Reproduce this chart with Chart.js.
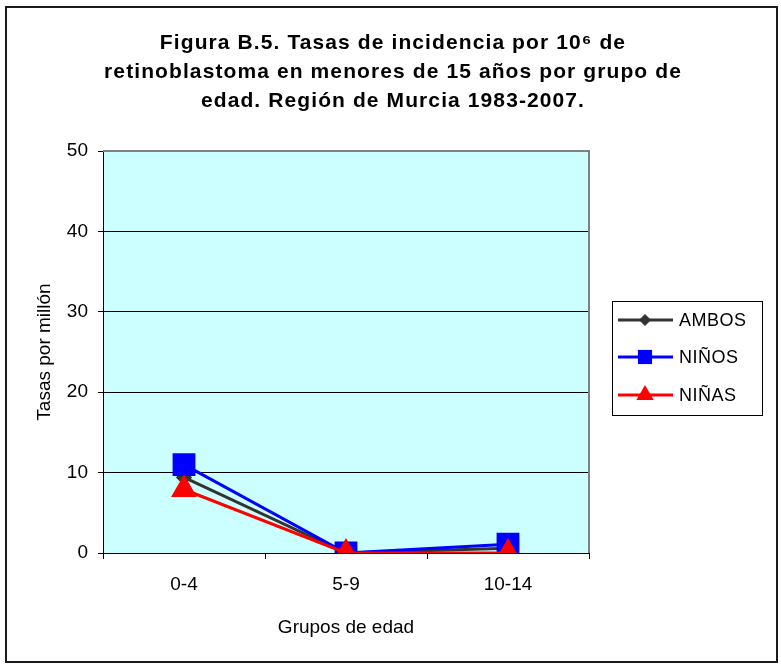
<!DOCTYPE html>
<html>
<head>
<meta charset="utf-8">
<script src="https://cdn.jsdelivr.net/npm/chart.js@4"></script>
<style>
  html, body { margin: 0; padding: 0; background: #fff; }
  #wrap { width: 781px; height: 666px; }
</style>
</head>
<body>
<div id="wrap"><canvas id="chart" width="781" height="666"></canvas></div>
<script>
const categories = ["0-4", "5-9", "10-14"];
const ambos = [9.4, 0, 0.6];
const ninos = [11.0, 0, 1.1];
const ninas = [7.9, 0, 0];
const yTicks = [0, 10, 20, 30, 40, 50];
const titleLines = [
  "Figura B.5. Tasas de incidencia por 10\u2076 de",
  "retinoblastoma en menores de 15 años por grupo de",
  "edad. Región de Murcia 1983-2007."
];

const FONT = "'Liberation Sans', Arial, sans-serif";

// outer frame, plot background and centred title
const frame = {
  id: "frame",
  beforeDraw(chart) {
    const { ctx, chartArea: a } = chart;
    ctx.save();
    ctx.fillStyle = "#fff";
    ctx.fillRect(0, 0, chart.width, chart.height);
    ctx.fillStyle = "#CCFFFF";
    ctx.fillRect(a.left, a.top, a.right - a.left, a.bottom - a.top);
    ctx.strokeStyle = "#1a1a1a";
    ctx.lineWidth = 2;
    ctx.strokeRect(6, 7, 771, 655);

    ctx.fillStyle = "#000";
    ctx.font = "bold 21px " + FONT;
    ctx.letterSpacing = "1.1px";
    ctx.textAlign = "center";
    ctx.textBaseline = "middle";
    titleLines.forEach((t, i) => ctx.fillText(t, 393, 43 + i * 29));
    ctx.restore();
  },
  afterDatasetsDraw(chart) {
    const { ctx, chartArea: a } = chart;
    ctx.save();
    ctx.strokeStyle = "#808080";
    ctx.lineWidth = 2;
    ctx.beginPath();
    ctx.moveTo(a.left, a.top);
    ctx.lineTo(a.right, a.top);
    ctx.lineTo(a.right, a.bottom);
    ctx.stroke();
    ctx.restore();
  }
};

// legend in a box, line + marker like the original
const boxLegend = {
  id: "boxLegend",
  afterDraw(chart) {
    const { ctx } = chart;
    ctx.save();
    ctx.strokeStyle = "#000";
    ctx.lineWidth = 1;
    ctx.strokeRect(612.5, 301.5, 150, 114);
    const rows = [320, 357, 395];
    chart.data.datasets.forEach((ds, i) => {
      const y = rows[i];
      ctx.strokeStyle = ds.borderColor;
      ctx.lineWidth = 3;
      ctx.beginPath();
      ctx.moveTo(618, y);
      ctx.lineTo(673, y);
      ctx.stroke();
      ctx.fillStyle = ds.borderColor;
      Chart.helpers.drawPoint(ctx, { pointStyle: ds.pointStyle, radius: ds.legendRadius, rotation: 0, borderWidth: 0 }, 645, y);
      ctx.fillStyle = "#000";
      ctx.font = "18px " + FONT;
      ctx.letterSpacing = "0.5px";
      ctx.textBaseline = "middle";
      ctx.textAlign = "left";
      ctx.fillText(ds.label, 679, y + 1);
    });
    ctx.restore();
  }
};

new Chart(document.getElementById("chart"), {
  type: "line",
  data: {
    labels: categories,
    datasets: [
      { label: "AMBOS", data: ambos, borderColor: "#333333", backgroundColor: "#333333",
        pointStyle: "rectRot", pointRadius: 6, legendRadius: 6, borderWidth: 3, order: 3 },
      { label: "NIÑOS", data: ninos, borderColor: "#0000FF", backgroundColor: "#0000FF",
        pointStyle: "rect", pointRadius: 14, legendRadius: 10, borderWidth: 3, order: 2 },
      { label: "NIÑAS", data: ninas, borderColor: "#FF0000", backgroundColor: "#FF0000",
        pointStyle: "triangle", pointRadius: 12, legendRadius: 10, borderWidth: 3, order: 1 }
    ]
  },
  options: {
    responsive: false,
    animation: false,
    layout: { padding: { left: 20, right: 192, top: 151, bottom: 0 } },
    elements: { line: { tension: 0 }, point: { borderWidth: 0, hoverRadius: 12 } },
    plugins: {
      legend: { display: false },
      tooltip: { enabled: false },
      title: { display: false }
    },
    scales: {
      x: {
        offset: true,
        grid: { display: true, offset: true, drawOnChartArea: false, color: "#000", tickLength: 6 },
        border: { color: "#000" },
        ticks: { color: "#000", font: { family: FONT, size: 19 }, padding: 14 },
        title: { display: true, text: "Grupos de edad", color: "#000",
                 font: { family: FONT, size: 19 }, padding: { top: 4, bottom: 27 } },
        afterFit(scale) { scale.height = 113; }
      },
      y: {
        min: 0, max: 50,
        afterBuildTicks(scale) { scale.ticks = yTicks.map(v => ({ value: v })); },
        grid: { color: "#000", tickLength: 5 },
        border: { color: "#000" },
        ticks: { color: "#000", font: { family: FONT, size: 19 }, padding: 10 },
        title: { display: true, text: "Tasas por millón", color: "#000",
                 font: { family: FONT, size: 19 }, padding: { top: 13, bottom: 4 } },
        afterFit(scale) { scale.width = 83; }
      }
    }
  },
  plugins: [frame, boxLegend]
});
</script>
</body>
</html>
